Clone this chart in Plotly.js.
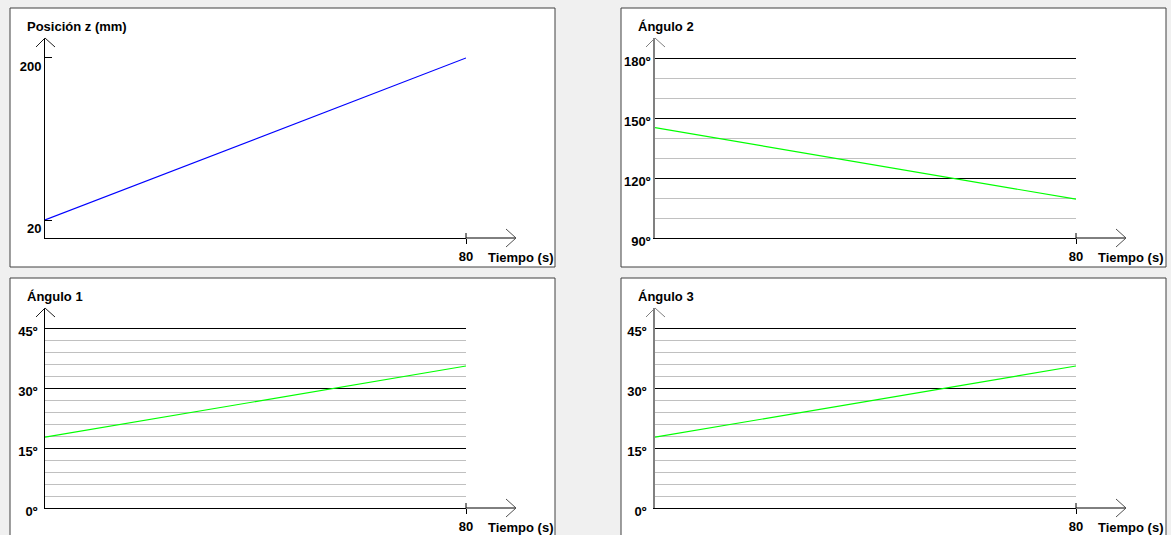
<!DOCTYPE html>
<html><head><meta charset="utf-8">
<script src="https://cdn.plot.ly/plotly-3.0.1.min.js"></script>
<style>html,body{margin:0;padding:0;background:#f0f0f0;}</style>
</head><body><div id="chart" style="width:1171px;height:535px;"></div>
<script>
// ---- data ----
const timeS = [0, 80];
const posicionZ = [20, 200];
const angulo2 = [145.2, 109.4];
const angulo1 = [17.7, 35.5];
const angulo3 = [17.7, 35.5];

// ---- tick labels ----
const xTickVals = [80];
const xTickText = ['80'];
const posTickVals = [20, 200];
const posTickText = ['20', '200'];
const ang2TickVals = [90, 120, 150, 180];
const ang2TickText = ['90º', '120º', '150º', '180º'];
const ang2MinorVals = [100, 110, 130, 140, 160, 170];
const angTickVals = [0, 15, 30, 45];
const angTickText = ['0º', '15º', '30º', '45º'];
const angMinorVals = [3, 6, 9, 12, 18, 21, 24, 27, 33, 36, 39, 42];

const panelTitles = ['Posición z (mm)', 'Ángulo 2', 'Ángulo 1', 'Ángulo 3'];
const xTitle = 'Tiempo (s)';

// ---- geometry ----
const W = 1171, H = 535;
const px = x => x / W;
const py = y => 1 - y / H;
const FONT = {family: 'Liberation Sans, Arial, sans-serif', size: 13, color: '#000', weight: 'bold'};

const panels = [
  {ox: 45,  oy: 238, box: [10, 8, 555, 267],   yr: [0, 222.2], tv: posTickVals, tt: posTickText, minor: null, ycol: '#000', yw: 1, yticks: 'inside', shift: 8, stand: 0},
  {ox: 655, oy: 238, box: [621, 8, 1166, 267], yr: [90, 190], tv: ang2TickVals, tt: ang2TickText, minor: ang2MinorVals, ycol: '#808080', yw: 2, yticks: '', shift: 3, stand: 0},
  {ox: 45,  oy: 508, box: [10, 278, 555, 540], yr: [0, 50], tv: angTickVals, tt: angTickText, minor: angMinorVals, ycol: '#000', yw: 1, yticks: '', shift: 3, stand: 4},
  {ox: 655, oy: 508, box: [621, 278, 1166, 540], yr: [0, 50], tv: angTickVals, tt: angTickText, minor: angMinorVals, ycol: '#808080', yw: 2, yticks: '', shift: 3, stand: 4}
];
const series = [posicionZ, angulo2, angulo1, angulo3];
const colors = ['#0000ff', '#00ff00', '#00ff00', '#00ff00'];

const XLEN = 421, XEXT = 471, YLEN = 200;
const traces = [];
const layout = {
  width: W, height: H, autosize: false,
  margin: {l: 0, r: 0, t: 0, b: 0, pad: 0},
  paper_bgcolor: '#f0f0f0', plot_bgcolor: 'rgba(0,0,0,0)',
  showlegend: false, hovermode: false,
  font: FONT,
  shapes: [], annotations: []
};

panels.forEach((p, i) => {
  const n = i + 1;
  const xa = 'xaxis' + (n === 1 ? '' : n), ya = 'yaxis' + (n === 1 ? '' : n);
  const xr = 'x' + (n === 1 ? '' : n), yr = 'y' + (n === 1 ? '' : n);
  traces.push({x: timeS, y: series[i], type: 'scatter', mode: 'lines', xaxis: xr, yaxis: yr,
    line: {color: colors[i], width: 1.2}});
  layout[xa] = {
    domain: [px(p.ox), px(p.ox + XLEN)], range: [0, 80], anchor: yr,
    showline: true, linecolor: '#000', linewidth: 1, showgrid: false, zeroline: false,
    tickmode: 'array', tickvals: xTickVals, ticktext: xTickText,
    ticks: 'outside', ticklen: 5, tickcolor: '#000', tickwidth: 1,
    ticklabelstandoff: 1, tickfont: FONT, fixedrange: true
  };
  const yax = {
    domain: [py(p.oy), py(p.oy - YLEN)], range: p.yr, anchor: xr,
    showline: true, linecolor: p.ycol, linewidth: p.yw, zeroline: false,
    tickmode: 'array', tickvals: p.tv, ticktext: p.tt,
    ticks: p.yticks, ticklen: 7, tickcolor: '#000', tickwidth: 1,
    ticklabelshift: p.shift, ticklabelstandoff: p.stand,
    tickfont: FONT, fixedrange: true,
    showgrid: !!p.minor, gridcolor: '#000', gridwidth: 1
  };
  if (p.minor) {
    yax.minor = {tickmode: 'array', tickvals: p.minor, showgrid: true, gridcolor: '#c0c0c0', gridwidth: 1, ticks: ''};
  }
  layout[ya] = yax;

  // panel frame
  const [bx0, by0, bx1, by1] = p.box;
  layout.shapes.push({type: 'rect', xref: 'paper', yref: 'paper', layer: 'below',
    x0: px(bx0), x1: px(bx1), y0: py(by0), y1: py(by1),
    fillcolor: '#ffffff', line: {color: '#404040', width: 1}});
  // x-axis extension + arrow
  const L = (x0, y0, x1, y1, c, w) => layout.shapes.push({type: 'line', xref: 'paper', yref: 'paper',
    x0: px(x0), y0: py(y0), x1: px(x1), y1: py(y1), line: {color: c, width: w || 1}});
  L(p.ox + XLEN, p.oy, p.ox + XEXT, p.oy, '#000');
  L(p.ox + XEXT - 10, p.oy - 9, p.ox + XEXT, p.oy, '#505050');
  L(p.ox + XEXT - 10, p.oy + 9, p.ox + XEXT, p.oy, '#505050');
  L(p.ox + XLEN, p.oy - 5, p.ox + XLEN, p.oy, '#000');
  // y-axis arrow
  const ac = p.ycol === '#000' ? '#202020' : '#808080';
  L(p.ox - 9, p.oy - YLEN + 9, p.ox, p.oy - YLEN, ac);
  L(p.ox + 10, p.oy - YLEN + 9, p.ox, p.oy - YLEN, ac);

  // titles
  layout.annotations.push({xref: 'paper', yref: 'paper', x: px(bx0 + 15), y: py(p.oy - 212),
    xanchor: 'left', yanchor: 'middle', text: panelTitles[i], showarrow: false, font: FONT});
  layout.annotations.push({xref: 'paper', yref: 'paper', x: px(p.ox + 441), y: py(p.oy + 19.5),
    xanchor: 'left', yanchor: 'middle', text: xTitle, showarrow: false, font: FONT});
});

Plotly.newPlot('chart', traces, layout, {staticPlot: true, displayModeBar: false});
</script>
</body></html>
